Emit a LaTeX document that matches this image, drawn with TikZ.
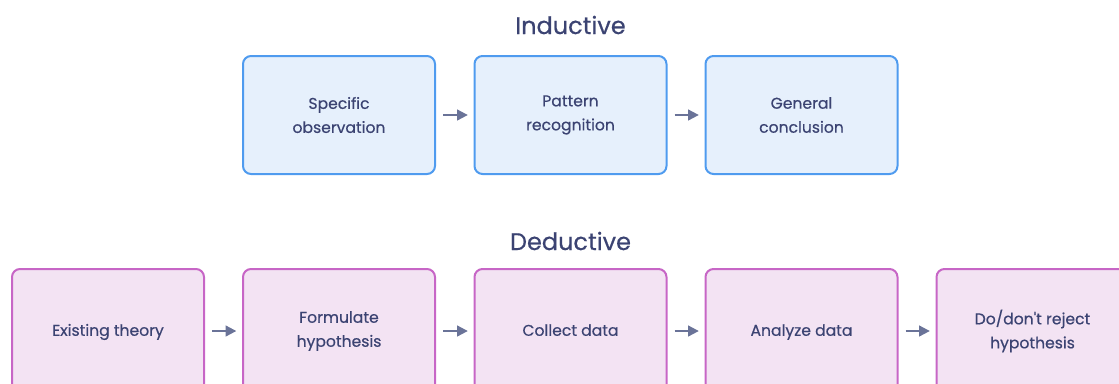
\documentclass[tikz,border=0pt]{standalone}
\usepackage{fontspec}
\setmainfont{Poppins}
\newfontfamily\medfont{Poppins}[FakeBold=0.5]
\usetikzlibrary{arrows.meta}
\definecolor{txt}{HTML}{3B4372}
\definecolor{arr}{HTML}{6A7398}
\definecolor{bluedraw}{HTML}{4F9BEF}
\definecolor{bluefill}{HTML}{E6F0FC}
\definecolor{pinkdraw}{HTML}{C766C6}
\definecolor{pinkfill}{HTML}{F3E3F3}
\tikzset{
  stagebox/.style={rounded corners=6pt, line width=1.5pt, minimum width=144pt,
    minimum height=88.5pt, inner sep=0pt, outer sep=0pt, align=center,
    text=txt, font=\medfont\fontsize{11.7}{18}\selectfont},
  indbox/.style={stagebox, draw=bluedraw, fill=bluefill},
  dedbox/.style={stagebox, draw=pinkdraw, fill=pinkfill, minimum height=93pt},
  heading/.style={text=txt, font=\medfont\fontsize{18}{21}\selectfont},
  flow/.style={draw=arr, line width=1.5pt, shorten <=6pt, shorten >=5pt,
    -{Triangle[length=8pt,width=8pt]}}
}
\begin{document}
\begin{tikzpicture}[x=0.75pt,y=-0.75pt]
  \useasboundingbox (0,0) rectangle (1119,383);
  % Inductive row
  \node[heading] (indtitle) at (570.5,25) {Inductive};
  \node[indbox] (i1) at (339,115) {Specific\\observation};
  \node[indbox] (i2) at (570.5,115) {Pattern\\recognition};
  \node[indbox] (i3) at (801.5,115) {General\\conclusion};
  \draw[flow] (i1) -- (i2);
  \draw[flow] (i2) -- (i3);
  % Deductive row (boxes run past the lower edge)
  \node[heading] (dedtitle) at (570.5,241) {Deductive};
  \node[dedbox] (d1) at (108,331) {\strut Existing theory};
  \node[dedbox] (d2) at (339,331) {Formulate\\hypothesis};
  \node[dedbox] (d3) at (570.5,331) {\strut Collect data};
  \node[dedbox] (d4) at (801.5,331) {\strut Analyze data};
  \node[dedbox] (d5) at (1032.5,331) {Do/don't reject\\hypothesis};
  \draw[flow] (d1) -- (d2);
  \draw[flow] (d2) -- (d3);
  \draw[flow] (d3) -- (d4);
  \draw[flow] (d4) -- (d5);
\end{tikzpicture}
\end{document}
